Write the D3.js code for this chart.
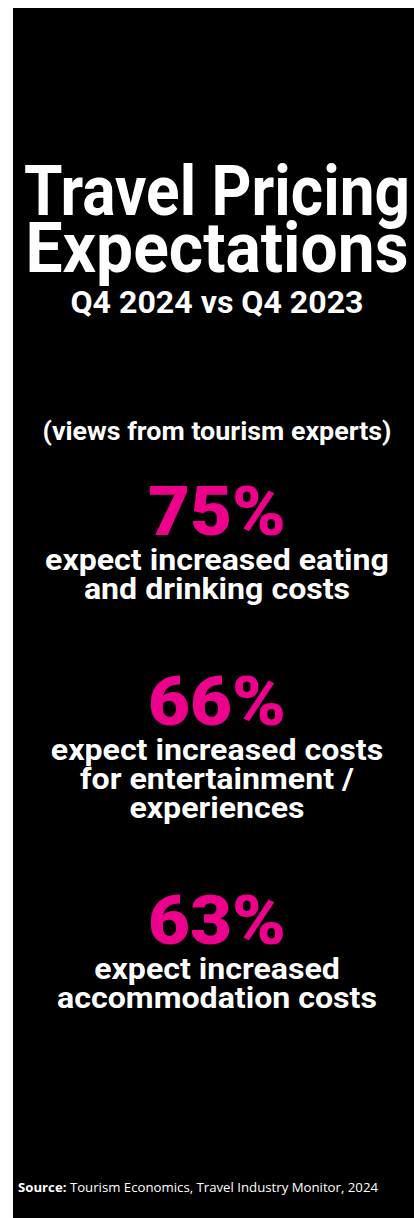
<!DOCTYPE html>
<html>
<head>
<meta charset="utf-8">
<script src="https://cdn.jsdelivr.net/npm/d3@7"></script>
<style>
    body { margin: 0; background: #fff; }
    #chart { width: 414px; height: 1218px; }
    text { font-family: Roboto, "Open Sans", sans-serif; }
</style>
</head>
<body>
<div id="chart"></div>
<script>

// headline text
let titleLines = ["Travel Pricing", "Expectations"];
let subtitle = "Q4 2024 vs Q4 2023";
let note = "(views from tourism experts)";

// the three stats
let percents = [75, 66, 63];
let statLabels = [
    ["expect increased eating", "and drinking costs"],
    ["expect increased costs", "for entertainment /", "experiences"],
    ["expect increased", "accommodation costs"]
];

let sourceBold = "Source:";
let sourceText = "Tourism Economics, Travel Industry Monitor, 2024";


class PricingCard {
    constructor(parentElement) {
        this.parentElement = parentElement;
        this.initVis()
    }

    initVis() {
        let vis = this;

        vis.width = 414;
        vis.height = 1218;
        vis.cx = 217;

        vis.svg = d3.select("#" + vis.parentElement).append("svg")
            .attr("width", vis.width)
            .attr("height", vis.height);

        // black panel
        vis.svg.append("rect")
            .attr("x", 13)
            .attr("y", 8)
            .attr("width", vis.width - 13)
            .attr("height", vis.height - 8)
            .attr("fill", "#000");

        vis.wrangleData()
    }

    wrangleData() {
        let vis = this;

        // stack the stat blocks: percent, then its lines
        let y = 535;
        vis.blocks = percents.map((p, i) => {
            let block = {pct: p, y: y, lines: statLabels[i]};
            y = y + 35 + (statLabels[i].length - 1) * 29 + 126;
            return block;
        });

        vis.updateVis()
    }

    updateVis() {
        let vis = this;

        let titleWidths = [386, 383];

        vis.svg.selectAll(".title")
            .data(titleLines)
            .join("text")
            .attr("class", "title")
            .attr("x", vis.cx)
            .attr("y", (d, i) => 215 + i * 57)
            .attr("text-anchor", "middle")
            .attr("font-size", 70)
            .attr("font-weight", 700)
            .attr("fill", "#fff")
            .attr("textLength", (d, i) => titleWidths[i])
            .attr("lengthAdjust", "spacingAndGlyphs")
            .text(d => d);

        vis.svg.append("text")
            .attr("x", vis.cx)
            .attr("y", 313)
            .attr("text-anchor", "middle")
            .attr("font-size", 31)
            .attr("font-weight", 700)
            .attr("fill", "#fff")
            .attr("textLength", 293)
            .attr("lengthAdjust", "spacingAndGlyphs")
            .text(subtitle);

        vis.svg.append("text")
            .attr("x", vis.cx)
            .attr("y", 440)
            .attr("text-anchor", "middle")
            .attr("font-size", 25)
            .attr("font-weight", 700)
            .attr("fill", "#fff")
            .attr("textLength", 349)
            .attr("lengthAdjust", "spacingAndGlyphs")
            .text(note);

        let groups = vis.svg.selectAll(".stat")
            .data(vis.blocks)
            .join("g")
            .attr("class", "stat")
            .attr("transform", d => `translate(${vis.cx}, ${d.y})`);

        groups.append("text")
            .attr("text-anchor", "middle")
            .attr("font-size", 68)
            .attr("font-weight", 900)
            .attr("fill", "#ec008c")
            .attr("textLength", 138)
            .attr("lengthAdjust", "spacingAndGlyphs")
            .text(d => d.pct + "%");

        let lines = groups.selectAll(".line")
            .data(d => d.lines)
            .join("text")
            .attr("class", "line")
            .attr("y", (d, i) => 35 + i * 29)
            .attr("text-anchor", "middle")
            .attr("font-size", 30)
            .attr("font-weight", 700)
            .attr("fill", "#fff")
            .text(d => d);

        // reference font is wider than Roboto, stretch a bit
        lines.each(function() {
            let len = this.getComputedTextLength();
            d3.select(this)
                .attr("textLength", len * 1.07)
                .attr("lengthAdjust", "spacingAndGlyphs");
        });

        // source line
        let src = vis.svg.append("text")
            .attr("x", 18)
            .attr("y", 1192)
            .attr("font-size", 12.5)
            .attr("fill", "#fff")
            .style("font-family", "'Open Sans', sans-serif")
            .attr("textLength", 360)
            .attr("lengthAdjust", "spacingAndGlyphs");
        src.append("tspan").attr("font-weight", 700).text(sourceBold + " ");
        src.append("tspan").text(sourceText);
    }
}

let card = new PricingCard("chart");

</script>
</body>
</html>
